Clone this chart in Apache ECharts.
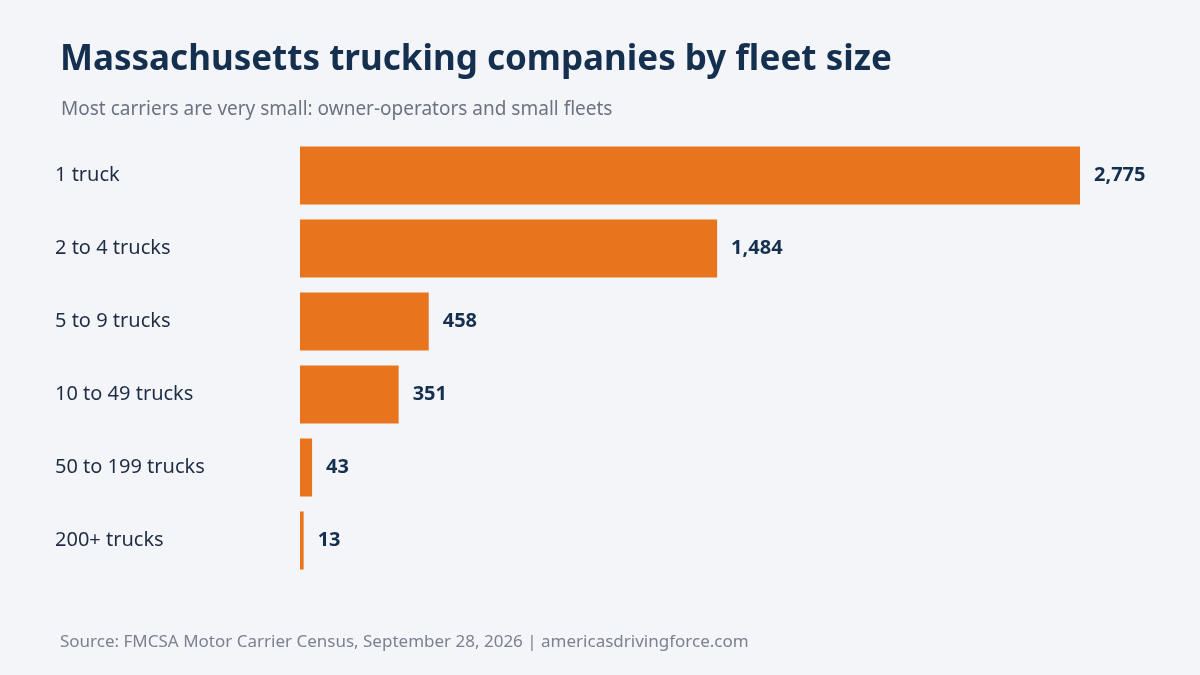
<!DOCTYPE html>
<html>
<head>
<meta charset="utf-8">
<script src="https://cdn.jsdelivr.net/npm/echarts@6/dist/echarts.min.js"></script>
<style>
  html, body { margin: 0; padding: 0; background: #f4f5f9; }
  #chart { width: 1200px; height: 675px; }
</style>
</head>
<body>
<div id="chart"></div>
<script>
var categories = ['1 truck', '2 to 4 trucks', '5 to 9 trucks', '10 to 49 trucks', '50 to 199 trucks', '200+ trucks'];
var companies = [2775, 1484, 458, 351, 43, 13];

var chart = echarts.init(document.getElementById('chart'));
var font = '"Noto Sans", "Open Sans", sans-serif';

chart.setOption({
    backgroundColor: '#f4f5f9',
    textStyle: { fontFamily: font },
    title: [
        {
            text: 'Massachusetts trucking companies by fleet size',
            left: 55, top: 38,
            textStyle: { fontSize: 35, fontWeight: 'bold', color: '#15304f', fontFamily: font }
        },
        {
            text: 'Most carriers are very small: owner-operators and small fleets',
            left: 56, top: 95,
            textStyle: { fontSize: 19, fontWeight: 'normal', color: '#6b7280', fontFamily: font }
        },
        {
            text: 'Source: FMCSA Motor Carrier Census, September 28, 2026 | americasdrivingforce.com',
            left: 55, top: 629,
            textStyle: { fontSize: 17, fontWeight: 'normal', color: '#7b8190', fontFamily: font }
        }
    ],
    grid: { left: 300, right: 120, top: 139, height: 438 },
    xAxis: {
        type: 'value', min: 0, max: 2775,
        show: false
    },
    yAxis: {
        type: 'category',
        data: categories,
        inverse: true,
        axisLine: { show: false },
        axisTick: { show: false },
        axisLabel: {
            align: 'left', margin: 245,
            fontSize: 20, color: '#1f2d44', fontFamily: font
        }
    },
    series: [{
        type: 'bar',
        data: companies,
        barWidth: 58,
        itemStyle: { color: '#e8751d' },
        label: {
            show: true, position: 'right', distance: 14,
            fontSize: 20, fontWeight: 'bold', color: '#15304f', fontFamily: font,
            formatter: function (p) { return p.value.toLocaleString('en-US'); }
        }
    }]
});
</script>
</body>
</html>
